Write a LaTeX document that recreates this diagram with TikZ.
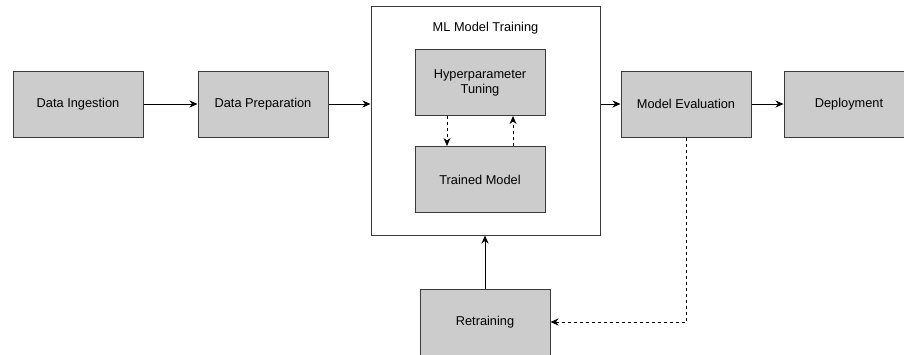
\documentclass[tikz,border=0pt]{standalone}
\usepackage{fontspec}
\setmainfont{Liberation Sans}
\usetikzlibrary{arrows.meta}
\usetikzlibrary{positioning}
\definecolor{boxgray}{HTML}{CCCCCC}
\definecolor{linegray}{HTML}{3A3A3A}

\begin{document}
\begin{tikzpicture}[->,>={Stealth[length=8pt,width=7pt,inset=2.5pt]},x=1pt,y=-1pt,line width=1pt,
    stage node/.style={rectangle,draw=linegray,fill=boxgray,minimum width=130pt,minimum height=66pt,align=center,font=\fontsize{12.8}{15}\selectfont},
    group node/.style={rectangle,draw=linegray,fill=white,minimum width=229pt,minimum height=229pt},
    loop edge/.style={dash pattern=on 3pt off 3pt}
    ]
    \useasboundingbox (0,0) rectangle (904,354);

    \node[group node](train) at (485.5,120.5){};
    \node[font=\fontsize{12.8}{15}\selectfont](trainlbl) at (485.5,28){ML Model Training};

    \node[stage node](ingest) at (78,104){Data Ingestion};
    \node[stage node](prep)[right=54pt of ingest]{Data Preparation};
    \node[stage node](hyper) at (480,82.5){Hyperparameter\\Tuning};
    \node[stage node](tmodel) at (480,179.5){Trained Model};
    \node[stage node](eval) at (686,104){Model Evaluation};
    \node[stage node](deploy)[right=32pt of eval]{Deployment};
    \node[stage node](retrain) at (485,322){Retraining};

    \draw (ingest) -- (prep);
    \draw (prep) -- (prep -| train.west);
    \draw (eval -| train.east) -- (eval);
    \draw (eval) -- (deploy);
    \draw (retrain.north) -- (retrain.north |- train.south);
    \draw[loop edge] ([xshift=-33pt]hyper.south) -- ([xshift=-33pt]tmodel.north);
    \draw[loop edge] ([xshift=33pt]tmodel.north) -- ([xshift=33pt]hyper.south);
    \draw[loop edge] (eval.south) |- (retrain.east);
\end{tikzpicture}
\end{document}
